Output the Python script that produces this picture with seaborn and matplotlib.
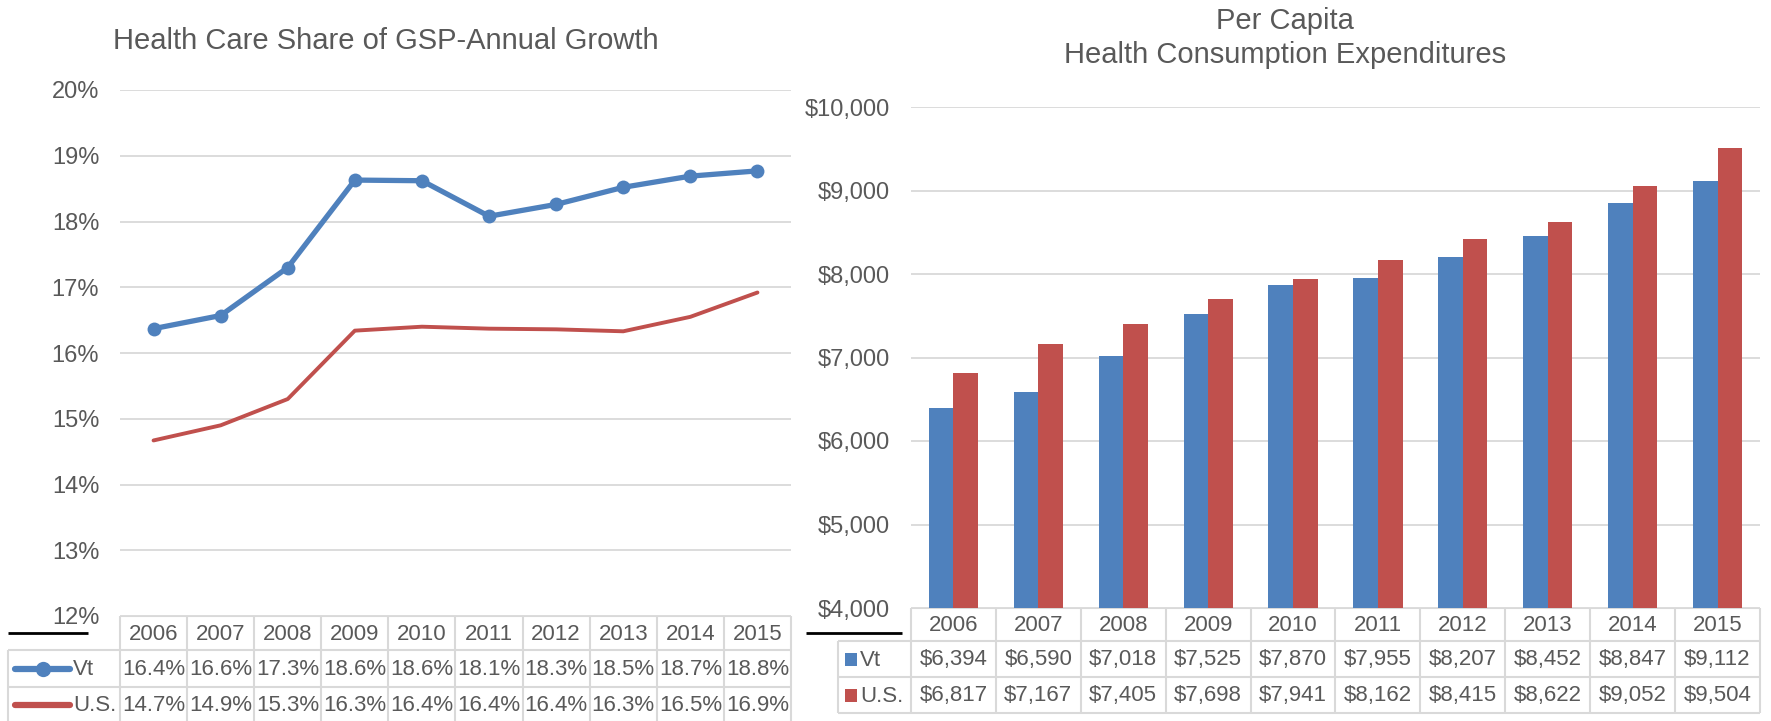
import matplotlib
matplotlib.use("Agg")
import matplotlib.pyplot as plt
import seaborn as sns
import pandas as pd

years = ["2006", "2007", "2008", "2009", "2010", "2011", "2012", "2013", "2014", "2015"]
series_names = ["Vt", "U.S."]

# health care share of GSP (fractions)
share_vt = [0.1637, 0.1657, 0.1730, 0.1863, 0.1862, 0.1808, 0.1826, 0.1852, 0.1869, 0.1877]
share_us = [0.1467, 0.1490, 0.1530, 0.1634, 0.1640, 0.1637, 0.1636, 0.1633, 0.1655, 0.1692]
share_vt_labels = ["16.4%", "16.6%", "17.3%", "18.6%", "18.6%", "18.1%", "18.3%", "18.5%", "18.7%", "18.8%"]
share_us_labels = ["14.7%", "14.9%", "15.3%", "16.3%", "16.4%", "16.4%", "16.4%", "16.3%", "16.5%", "16.9%"]

# per capita health consumption expenditures
spend_vt = [6394, 6590, 7018, 7525, 7870, 7955, 8207, 8452, 8847, 9112]
spend_us = [6817, 7167, 7405, 7698, 7941, 8162, 8415, 8622, 9052, 9504]

share_ticks = [0.12, 0.13, 0.14, 0.15, 0.16, 0.17, 0.18, 0.19, 0.20]
spend_ticks = [4000, 5000, 6000, 7000, 8000, 9000, 10000]

BLUE = "#4F81BD"
RED = "#C0504D"
GRID = "#D9D9D9"
TXT = "#595959"

sns.set_theme(style="white")
plt.rcParams["font.family"] = ["Liberation Sans", "DejaVu Sans"]

W, H = 1771, 721
fig = plt.figure(figsize=(W / 100, H / 100), dpi=100)


def box(l, t, r, b):
    return [l / W, 1 - b / H, (r - l) / W, (b - t) / H]


ax1 = fig.add_axes(box(120, 90, 791, 616))
ax2 = fig.add_axes(box(911, 107, 1760, 608))
over = fig.add_axes([0, 0, 1, 1], zorder=-1)
over.set_xlim(0, W)
over.set_ylim(H, 0)
over.axis("off")

# ---- left: line chart
line_df = pd.DataFrame({
    "pos": list(range(len(years))) * 2,
    "val": share_vt + share_us,
    "series": [series_names[0]] * len(years) + [series_names[1]] * len(years),
})
sns.lineplot(data=line_df[line_df.series == "Vt"], x="pos", y="val", ax=ax1,
             color=BLUE, lw=3.8, marker="o", markersize=10, markeredgewidth=0)
sns.lineplot(data=line_df[line_df.series == "U.S."], x="pos", y="val", ax=ax1,
             color=RED, lw=2.8)
ax1.set_xlim(-0.5, len(years) - 0.5)
ax1.set_ylim(share_ticks[0], share_ticks[-1])
ax1.set_yticks(share_ticks)
ax1.set_yticklabels([f"{round(t * 100)}%" for t in share_ticks])
ax1.set_xticks([])

# ---- right: bar chart
bar_df = pd.DataFrame({
    "year": years * 2,
    "val": spend_vt + spend_us,
    "series": [series_names[0]] * len(years) + [series_names[1]] * len(years),
})
sns.barplot(data=bar_df, x="year", y="val", hue="series", ax=ax2,
            palette=[BLUE, RED], width=0.58, gap=0, legend=False, saturation=1)
for p in ax2.patches:
    p.set_linewidth(0)
ax2.set_xlim(-0.5, len(years) - 0.5)
ax2.set_ylim(spend_ticks[0], spend_ticks[-1])
ax2.set_yticks(spend_ticks)
ax2.set_yticklabels([f"${t:,}" for t in spend_ticks])
ax2.set_xticks([])

for ax in (ax1, ax2):
    ax.set_xlabel("")
    ax.set_ylabel("")
    for s in ax.spines.values():
        s.set_visible(False)
    ax.yaxis.grid(True, color=GRID, lw=1.3)
    ax.set_axisbelow(True)
    ax.tick_params(axis="y", length=0, labelsize=17, labelcolor=TXT, pad=15)

fig.text(113 / W, 1 - 41 / H, "Health Care Share of GSP-Annual Growth", fontsize=21,
         color=TXT, ha="left", va="center")
fig.text(1285 / W, 1 - 38 / H, "Per Capita\nHealth Consumption Expenditures", fontsize=21,
         color=TXT, ha="center", va="center", linespacing=1.25)


def col_edges(ax):
    return [ax.transData.transform((i - 0.5, 0))[0] for i in range(len(years) + 1)]


def draw_table(ax, rows_y, leg_left, row_labels, key_kind, fs):
    xs = col_edges(ax)
    top, r1, r2, bot = rows_y
    over.hlines(top, xs[0], xs[-1], color=GRID, lw=1.5)
    over.hlines([r1, r2], leg_left, xs[-1], color=GRID, lw=1.5)
    over.hlines(bot, leg_left, xs[-1], color=GRID, lw=1.5)
    over.vlines(xs, top, bot, color=GRID, lw=1.5)
    over.vlines(leg_left, r1, bot, color=GRID, lw=1.5)
    for i, y in enumerate(years):
        cx = (xs[i] + xs[i + 1]) / 2
        over.text(cx, (top + r1) / 2 + 1, y, ha="center", va="center", fontsize=fs, color=TXT)
        over.text(cx, (r1 + r2) / 2 + 1, row_labels[0][i], ha="center", va="center", fontsize=fs, color=TXT)
        over.text(cx, (r2 + bot) / 2 + 1, row_labels[1][i], ha="center", va="center", fontsize=fs, color=TXT)
    for k, (yy, name, c) in enumerate([((r1 + r2) / 2, "Vt", BLUE), ((r2 + bot) / 2, "U.S.", RED)]):
        if key_kind == "line":
            over.plot([leg_left + 7, leg_left + 62], [yy, yy], color=c, lw=4.5,
                      solid_capstyle="round")
            if k == 0:
                over.plot([leg_left + 35], [yy], "o", color=c, markersize=11, markeredgewidth=0)
            over.text(leg_left + 65, yy + 1, name, ha="left", va="center", fontsize=fs, color=TXT)
        else:
            over.add_patch(plt.Rectangle((leg_left + 7, yy - 6), 12, 13, color=c, lw=0))
            over.text(leg_left + 22, yy + 1, name, ha="left", va="center", fontsize=fs, color=TXT)


draw_table(ax1, (616, 650, 687, 722), 8, (share_vt_labels, share_us_labels), "line", 16)
draw_table(ax2, (608, 641, 677, 713), 838,
           ([f"${v:,}" for v in spend_vt], [f"${v:,}" for v in spend_us]), "box", 16)

# short black strokes left of the tables
over.hlines(633, 8, 88, color="black", lw=2)
over.hlines(633, 806, 902, color="black", lw=2)

fig.savefig("out.png", dpi=100)
